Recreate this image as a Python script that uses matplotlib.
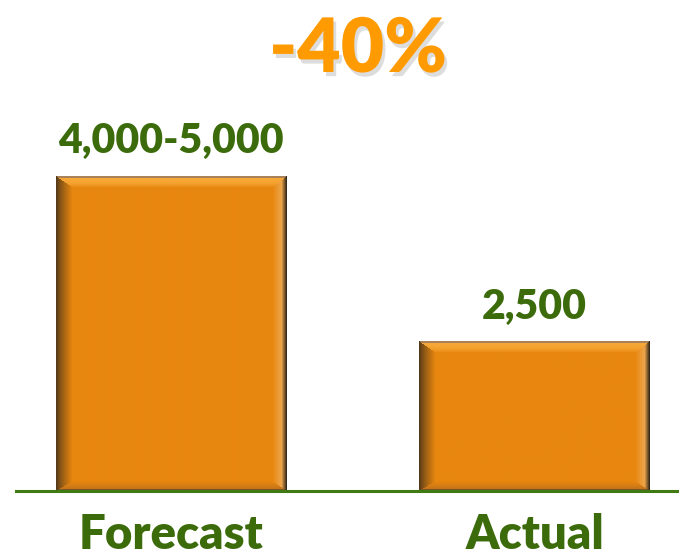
import numpy as np
import matplotlib
matplotlib.use("Agg")
import matplotlib.pyplot as plt
from matplotlib import patheffects as pe

categories = ["Forecast", "Actual"]
values = [5280, 2500]
value_labels = ["4,000-5,000", "2,500"]
change_label = "-40%"

BAR = np.array([232, 135, 15]) / 255.0
GREEN = "#3B6B0B"
ORANGE_TXT = "#FF9A00"
FONT = ["Lato", "DejaVu Sans"]
WEIGHT = "heavy"

W, H = 679, 559
fig = plt.figure(figsize=(W / 100, H / 100), dpi=100)
ax = fig.add_axes([16 / W, (H - 491) / H, (W - 16) / W, 491 / H])
ax.set_xlim(-0.4264, 1.3975)
ax.set_ylim(0, 8238)

bars = ax.bar(range(len(categories)), values, width=0.633, color=BAR, zorder=2)


def bevel_image(wpx, hpx):
    ys, xs = np.mgrid[0:hpx, 0:wpx].astype(float)
    img = np.ones((hpx, wpx, 4))
    img[..., :3] = BAR
    bl, br, bt, bb = 16.0, 14.0, 11.0, 9.0
    dl = xs / bl
    dr = (wpx - 1 - xs) / br
    dt = ys / bt
    db = (hpx - 1 - ys) / bb
    stack = np.stack([dl, dr, dt, db])
    side = np.argmin(stack, axis=0)
    t = np.clip(np.min(stack, axis=0), 0, 1)
    dark_l = np.array([85, 58, 25]) / 255
    dark_r = np.array([55, 42, 25]) / 255
    light_r = np.array([236, 165, 75]) / 255
    top_c = np.array([247, 168, 55]) / 255
    bot_c = np.array([190, 112, 28]) / 255
    out = img[..., :3].copy()
    m = (side == 0) & (t < 1)
    tt = t[m][:, None] ** 0.8
    out[m] = dark_l * (1 - tt) + BAR * tt
    m = (side == 1) & (t < 1)
    tt = t[m][:, None]
    c = np.where(tt < 0.35, dark_r * (1 - tt / 0.35) + light_r * (tt / 0.35),
                 light_r * (1 - (tt - 0.35) / 0.65) + BAR * ((tt - 0.35) / 0.65))
    out[m] = c
    m = (side == 2) & (t < 1)
    tt = t[m][:, None]
    c = np.where(tt < 0.15, np.array([170, 130, 90]) / 255, top_c * (1 - tt ** 3) + BAR * tt ** 3)
    out[m] = c
    m = (side == 3) & (t < 1)
    tt = t[m][:, None]
    c = np.where(tt < 0.2, np.array([120, 85, 40]) / 255, bot_c * (1 - tt) + BAR * tt)
    out[m] = c
    img[..., :3] = out
    return img


fig.canvas.draw()
for b in bars:
    x0, y0 = b.get_x(), b.get_y()
    x1, y1 = x0 + b.get_width(), y0 + b.get_height()
    p0 = ax.transData.transform((x0, y0))
    p1 = ax.transData.transform((x1, y1))
    wpx = int(round(p1[0] - p0[0]))
    hpx = int(round(p1[1] - p0[1]))
    ax.imshow(bevel_image(wpx, hpx), extent=(x0, x1, y0, y1), aspect="auto",
              zorder=3, interpolation="bilinear")

ax.set_xlim(-0.4264, 1.3975)
ax.set_ylim(0, 8238)

for i, (v, lab) in enumerate(zip(values, value_labels)):
    ax.annotate(lab, (i, v), xytext=(0, 16.5), textcoords="offset points",
                ha="center", va="baseline", fontsize=29.5, fontweight=WEIGHT,
                color=GREEN, family=FONT)

ax.set_xticks(range(len(categories)))
ax.set_xticklabels(categories, fontsize=34, fontweight=WEIGHT, color=GREEN,
                   family=FONT, va="baseline")
ax.tick_params(axis="x", length=0, pad=41.5)
ax.set_yticks([])
for s in ["top", "left", "right"]:
    ax.spines[s].set_visible(False)
ax.spines["bottom"].set_color("#3F7A12")
ax.spines["bottom"].set_linewidth(2.2)
ax.spines["bottom"].set_zorder(5)

fig.text(358 / W, 1 - 72 / H, change_label, ha="center", va="baseline",
         fontsize=54, fontweight=WEIGHT, color=ORANGE_TXT, family=FONT,
         path_effects=[pe.withSimplePatchShadow(offset=(2, -3), shadow_rgbFace="#aaaaaa", alpha=0.4)])

fig.savefig("out.png", dpi=100)
